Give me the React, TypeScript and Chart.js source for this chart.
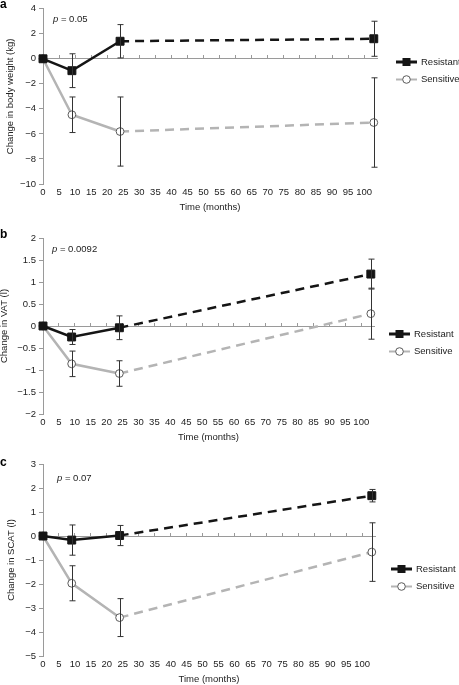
import { useEffect, useRef } from 'react'
import { Chart, registerables } from 'chart.js'

Chart.register(...registerables)

// months of follow-up (x values of the points)
const months = [0, 9, 24, 103]
const xMax = 104
const xTicks = [0, 5, 10, 15, 20, 25, 30, 35, 40, 45, 50, 55, 60, 65, 70, 75, 80, 85, 90, 95, 100]
const seriesNames = ['Resistant', 'Sensitive']

// a: body weight (kg)
const weightResistant = [0, -0.95, 1.4, 1.6]
const weightResistantErr = [0, 1.35, 1.33, 1.4]
const weightSensitive = [0, -4.47, -5.81, -5.09]
const weightSensitiveErr = [0, 1.42, 2.76, 3.57]
const weightTicks = [-10, -8, -6, -4, -2, 0, 2, 4]

// b: VAT (l)
const vatResistant = [0, -0.25, -0.04, 1.18]
const vatResistantErr = [0, 0.17, 0.27, 0.34]
const vatSensitive = [0, -0.86, -1.08, 0.28]
const vatSensitiveErr = [0, 0.29, 0.29, 0.58]
const vatTicks = [-2, -1.5, -1, -0.5, 0, 0.5, 1, 1.5, 2]

// c: SCAT (l)
const scatResistant = [0, -0.17, 0.02, 1.68]
const scatResistantErr = [0, 0.63, 0.42, 0.26]
const scatSensitive = [0, -1.97, -3.4, -0.67]
const scatSensitiveErr = [0, 0.73, 0.79, 1.22]
const scatTicks = [-5, -4, -3, -2, -1, 0, 1, 2, 3]

const FONT = '"Liberation Sans", Arial, Helvetica, sans-serif'
const FONT_SIZE = 9.5
const AXIS_GREY = '#9a9a9a'
const TEXT = '#222'

Chart.defaults.font.family = FONT
Chart.defaults.font.size = FONT_SIZE
Chart.defaults.color = TEXT

const fmt = (v: number) => (v < 0 ? '\u2212' + Math.abs(v) : String(v))

interface PanelProps {
  letter: string
  letterY: number
  pValue: string
  pPos: [number, number]
  yTitle: string
  yTitlePad: number
  yTicks: number[]
  resistant: number[]
  resistantErr: number[]
  sensitive: number[]
  sensitiveErr: number[]
  height: number
  top: number
  bottom: number
  right: number
  legendPos: [number, number]
}

function Panel(props: PanelProps) {
  const ref = useRef<HTMLCanvasElement>(null)

  useEffect(() => {
    if (!ref.current) return
    const context = ref.current.getContext('2d')
    if (!context) return
    const p = props
    const errs = [p.resistantErr, p.sensitiveErr]

    const errorBars = {
      id: 'errorBars',
      afterDatasetsDraw(chart: any) {
        const c = chart.ctx
        const ys = chart.scales.y
        c.save()
        c.strokeStyle = '#333'
        c.lineWidth = 1
        chart.data.datasets.forEach((ds: any, i: number) => {
          const meta = chart.getDatasetMeta(i)
          ds.data.forEach((pt: any, j: number) => {
            const e = errs[i][j]
            if (!e) return
            const x = Math.round(meta.data[j].x) + 0.5
            const y1 = ys.getPixelForValue(pt.y + e)
            const y2 = ys.getPixelForValue(pt.y - e)
            c.beginPath()
            c.moveTo(x, y1)
            c.lineTo(x, y2)
            c.moveTo(x - 3, y1)
            c.lineTo(x + 3, y1)
            c.moveTo(x - 3, y2)
            c.lineTo(x + 3, y2)
            c.stroke()
          })
        })
        c.restore()
      },
    }

    const extras = {
      id: 'extras',
      afterDraw(chart: any) {
        const c = chart.ctx
        c.save()
        // panel letter
        c.font = `bold 12px ${FONT}`
        c.fillStyle = '#000'
        c.textBaseline = 'alphabetic'
        c.fillText(p.letter, 0, p.letterY)
        // p value
        c.font = `italic ${FONT_SIZE}px ${FONT}`
        c.fillStyle = TEXT
        c.fillText('p', p.pPos[0], p.pPos[1])
        const w = c.measureText('p').width
        c.font = `${FONT_SIZE}px ${FONT}`
        c.fillText(' = ' + p.pValue, p.pPos[0] + w, p.pPos[1])
        // legend
        chart.data.datasets.forEach((ds: any, i: number) => {
          const lx = p.legendPos[0]
          const ly = p.legendPos[1] + i * 17.5
          c.strokeStyle = ds.borderColor
          c.lineWidth = i === 0 ? 3 : 2
          c.setLineDash([])
          c.beginPath()
          c.moveTo(lx, ly)
          c.lineTo(lx + 21, ly)
          c.stroke()
          c.fillStyle = ds.pointBackgroundColor
          c.strokeStyle = ds.pointBorderColor
          c.lineWidth = 1
          if (ds.pointStyle === 'rect') {
            c.fillRect(lx + 6.5, ly - 4, 8, 8)
          } else {
            c.beginPath()
            c.arc(lx + 10.5, ly, 3.8, 0, Math.PI * 2)
            c.fill()
            c.stroke()
          }
          c.fillStyle = TEXT
          c.font = `${FONT_SIZE}px ${FONT}`
          c.textBaseline = 'middle'
          c.fillText(ds.label, lx + 25, ly)
          c.textBaseline = 'alphabetic'
        })
        c.restore()
      },
    }

    const toPoints = (vals: number[]) => months.map((m, i) => ({ x: m, y: vals[i] }))
    const dashAfter = (ctx: any) => (ctx.p0DataIndex >= 2 ? [9, 6] : undefined)
    const setTicks = (values: number[]) => (axis: any) => {
      axis.ticks = values.map((v) => ({ value: v }))
    }

    const chart = new Chart(context, {
      type: 'line',
      data: {
        datasets: [
          {
            label: seriesNames[0],
            data: toPoints(p.resistant),
            borderColor: '#151515',
            borderWidth: 2.5,
            pointStyle: 'rect',
            pointRadius: 5.6,
            pointBackgroundColor: '#151515',
            pointBorderColor: '#151515',
            pointBorderWidth: 1,
            clip: false,
            segment: { borderDash: dashAfter },
          } as any,
          {
            label: seriesNames[1],
            data: toPoints(p.sensitive),
            borderColor: '#b4b4b4',
            borderWidth: 2.5,
            pointStyle: 'circle',
            pointRadius: 3.9,
            pointBackgroundColor: '#ffffff',
            pointBorderColor: '#5a5a5a',
            pointBorderWidth: 1,
            clip: false,
            segment: { borderDash: dashAfter },
          } as any,
        ],
      },
      options: {
        animation: false,
        responsive: false,
        events: [],
        layout: {
          padding: {
            top: p.top,
            right: 459 - p.right,
            bottom: p.height - p.bottom - 30,
            left: 0,
          },
        },
        plugins: {
          legend: { display: false },
          tooltip: { enabled: false },
        },
        scales: {
          x: {
            type: 'linear',
            position: 'bottom',
            min: 0,
            max: xMax,
            afterBuildTicks: setTicks(xTicks),
            afterFit: (axis: any) => {
              axis.height = 30
            },
            grid: { display: false, drawTicks: false },
            border: { display: false },
            ticks: { padding: 3, maxRotation: 0, autoSkip: false, color: TEXT },
            title: {
              display: true,
              text: 'Time (months)',
              color: TEXT,
              padding: { top: 0, bottom: 1 },
            },
          },
          x0: {
            type: 'linear',
            axis: 'x',
            position: { y: 0 },
            min: 0,
            max: xMax,
            afterBuildTicks: setTicks(xTicks),
            grid: { drawOnChartArea: false, drawTicks: true, tickLength: -4, color: AXIS_GREY },
            border: { display: true, color: AXIS_GREY },
            ticks: { display: false },
          },
          y: {
            type: 'linear',
            position: 'left',
            min: p.yTicks[0],
            max: p.yTicks[p.yTicks.length - 1],
            afterBuildTicks: setTicks(p.yTicks),
            afterFit: (axis: any) => {
              axis.width = 43
            },
            grid: { drawOnChartArea: false, tickLength: 4, color: AXIS_GREY },
            border: { display: true, color: AXIS_GREY },
            ticks: { padding: 3, color: TEXT, callback: (v: any) => fmt(Number(v)) },
            title: {
              display: true,
              text: p.yTitle,
              color: TEXT,
              padding: { top: p.yTitlePad, bottom: 0 },
            },
          },
        } as any,
      },
      plugins: [errorBars, extras],
    })

    return () => chart.destroy()
  }, [])

  return (
    <div style={{ width: 459, height: props.height }}>
      <canvas ref={ref} width={459} height={props.height} style={{ display: 'block' }}></canvas>
    </div>
  )
}

export default function App() {
  return (
    <div style={{ position: 'absolute', left: 0, top: 0, width: 459, height: 685, background: '#fff' }}>
      <Panel
        letter='a'
        letterY={8}
        pValue='0.05'
        pPos={[53, 22]}
        yTitle='Change in body weight (kg)'
        yTitlePad={4.5}
        yTicks={weightTicks}
        resistant={weightResistant}
        resistantErr={weightResistantErr}
        sensitive={weightSensitive}
        sensitiveErr={weightSensitiveErr}
        height={225}
        top={8}
        bottom={184}
        right={377}
        legendPos={[396, 62]}
      />
      <Panel
        letter='b'
        letterY={13}
        pValue='0.0092'
        pPos={[52, 27]}
        yTitle='Change in VAT (l)'
        yTitlePad={-1}
        yTicks={vatTicks}
        resistant={vatResistant}
        resistantErr={vatResistantErr}
        sensitive={vatSensitive}
        sensitiveErr={vatSensitiveErr}
        height={230}
        top={13}
        bottom={189}
        right={374}
        legendPos={[389, 109]}
      />
      <Panel
        letter='c'
        letterY={11}
        pValue='0.07'
        pPos={[57, 25.5]}
        yTitle='Change in SCAT (l)'
        yTitlePad={5.5}
        yTicks={scatTicks}
        resistant={scatResistant}
        resistantErr={scatResistantErr}
        sensitive={scatSensitive}
        sensitiveErr={scatSensitiveErr}
        height={230}
        top={9}
        bottom={201}
        right={375}
        legendPos={[391, 114]}
      />
    </div>
  )
}
